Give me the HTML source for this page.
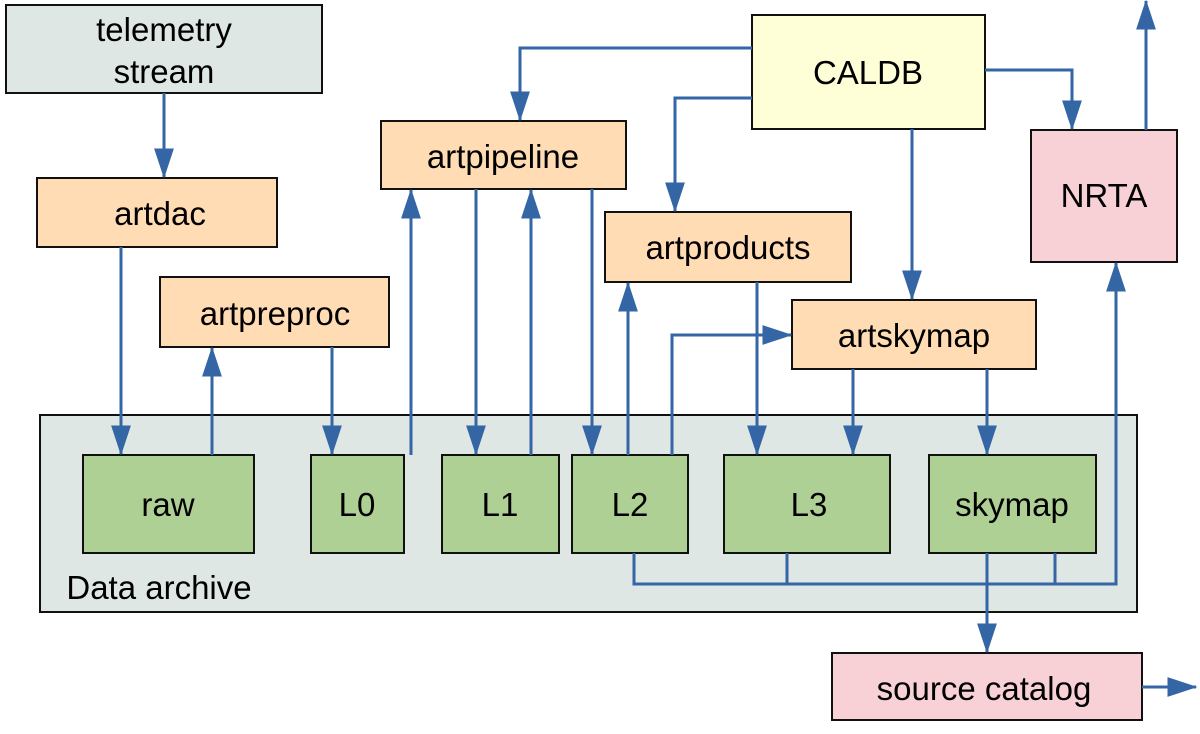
<!DOCTYPE html>
<html><head><style>body{margin:0;background:#fff}</style></head><body>
<svg width="1200" height="729" viewBox="0 0 1200 729" xmlns="http://www.w3.org/2000/svg" font-family="Liberation Sans, sans-serif" font-size="33">
<defs><marker id="a" markerWidth="10" markerHeight="7" refX="9.5" refY="3.3" orient="auto" markerUnits="strokeWidth"><path d="M0,0 L10,3.3 L0,6.6 z" fill="#3465a4"/></marker></defs>
<g stroke="#111" stroke-width="2">
<rect x="6" y="5" width="316" height="88" fill="#dfe7e5"/>
<rect x="40" y="415" width="1097" height="197" fill="#dfe7e5"/>
<rect x="37" y="178" width="240" height="69" fill="#ffdcb4"/>
<rect x="160" y="277" width="229" height="70" fill="#ffdcb4"/>
<rect x="381" y="121" width="245" height="68" fill="#ffdcb4"/>
<rect x="752" y="15" width="233" height="114" fill="#ffffd7"/>
<rect x="1031" y="130" width="146" height="132" fill="#f7d1d6"/>
<rect x="605" y="212" width="246" height="70" fill="#ffdcb4"/>
<rect x="792" y="300" width="244" height="69" fill="#ffdcb4"/>
<rect x="83" y="455" width="171" height="98" fill="#afd095"/>
<rect x="311" y="455" width="93" height="98" fill="#afd095"/>
<rect x="442" y="455" width="117" height="98" fill="#afd095"/>
<rect x="572" y="455" width="116" height="98" fill="#afd095"/>
<rect x="724" y="455" width="166" height="98" fill="#afd095"/>
<rect x="929" y="455" width="167" height="98" fill="#afd095"/>
<rect x="832" y="653" width="310" height="67" fill="#f7d1d6"/>
</g>
<g stroke="#3465a4" stroke-width="3" fill="none" marker-end="url(#a)">
<path d="M164,93V177"/>
<path d="M121,247V454"/>
<path d="M212,455V348"/>
<path d="M332,347V454"/>
<path d="M411,455V190"/>
<path d="M476,189V454"/>
<path d="M531,455V190"/>
<path d="M592,189V454"/>
<path d="M628,455V283"/>
<path d="M672,455V335H791"/>
<path d="M757,282V454"/>
<path d="M853,369V454"/>
<path d="M987,369V454"/>
<path d="M752,48H520V120"/>
<path d="M752,98H675V211"/>
<path d="M912,129V299"/>
<path d="M985,70H1072V129"/>
<path d="M1146,130V1"/>
<path d="M634,553V584H1116V263"/>
<path d="M987,553V652"/>
<path d="M1142,687H1196"/>
</g>
<g stroke="#3465a4" stroke-width="3" fill="none">
<path d="M787,553V584M1055,553V584"/>
</g>
<g fill="#000" text-anchor="middle">
<text x="164" y="41">telemetry</text>
<text x="164" y="83">stream</text>
<text x="160" y="225">artdac</text>
<text x="275" y="325">artpreproc</text>
<text x="503" y="168">artpipeline</text>
<text x="868" y="84">CALDB</text>
<text x="1104" y="207">NRTA</text>
<text x="728" y="259">artproducts</text>
<text x="914" y="347">artskymap</text>
<text x="168" y="516">raw</text>
<text x="357" y="516">L0</text>
<text x="500" y="516">L1</text>
<text x="630" y="516">L2</text>
<text x="809" y="516">L3</text>
<text x="1012" y="516">skymap</text>
<text x="984" y="700">source catalog</text>
<text x="159" y="599">Data archive</text>
</g>
</svg>
</body></html>
